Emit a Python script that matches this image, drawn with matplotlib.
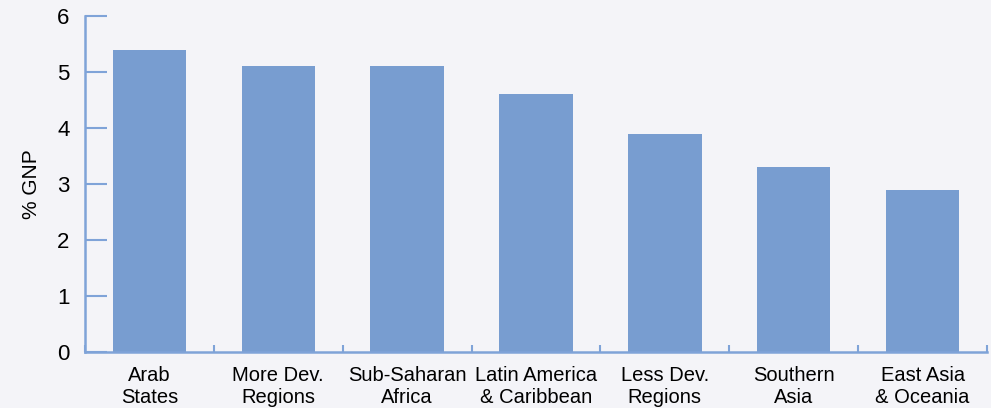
import numpy as np
import matplotlib.pyplot as plt

# Education spending by region
REGIONS = ["Arab\nStates", "More Dev.\nRegions", "Sub-Saharan\nAfrica",
           "Latin America\n& Caribbean", "Less Dev.\nRegions", "Southern\nAsia",
           "East Asia\n& Oceania"]
PCT_GNP = [5.4, 5.1, 5.1, 4.6, 3.9, 3.3, 2.9]
Y_TICKS = [0, 1, 2, 3, 4, 5, 6]

BG = "#f4f4f8"
BAR = "#789dd0"
AXIS = "#7fa3d8"

plt.rcParams['font.family'] = ['Liberation Sans', 'DejaVu Sans']

fig = plt.figure(figsize=(9.91, 4.08), dpi=100, facecolor=BG)
ax = fig.add_axes([85 / 991, 56 / 408, 902 / 991, 336 / 408], facecolor=BG)

x = np.arange(len(REGIONS))
ax.bar(x, PCT_GNP, width=0.57, color=BAR, zorder=2)

ax.set_xlim(-0.5, len(REGIONS) - 0.5)
ax.set_ylim(0, 6)

# spines
for side in ("top", "right"):
    ax.spines[side].set_visible(False)
for side in ("left", "bottom"):
    ax.spines[side].set_color(AXIS)
    ax.spines[side].set_linewidth(1.8)

ax.set_yticks(Y_TICKS)
ax.tick_params(axis='y', direction='in', length=16, width=1.5, color=AXIS,
               labelsize=16, pad=11)

ax.set_xticks(x)
ax.set_xticklabels(REGIONS, fontsize=14.5, linespacing=1.2)
ax.tick_params(axis='x', which='major', length=0, pad=10)
ax.set_xticks(np.arange(len(REGIONS) + 1) - 0.5, minor=True)
ax.tick_params(axis='x', which='minor', direction='in', length=5, width=1.5, color=AXIS)

ax.set_ylabel("% GNP", fontsize=15, labelpad=12)

fig.savefig("out.png", dpi=100, facecolor=BG)
